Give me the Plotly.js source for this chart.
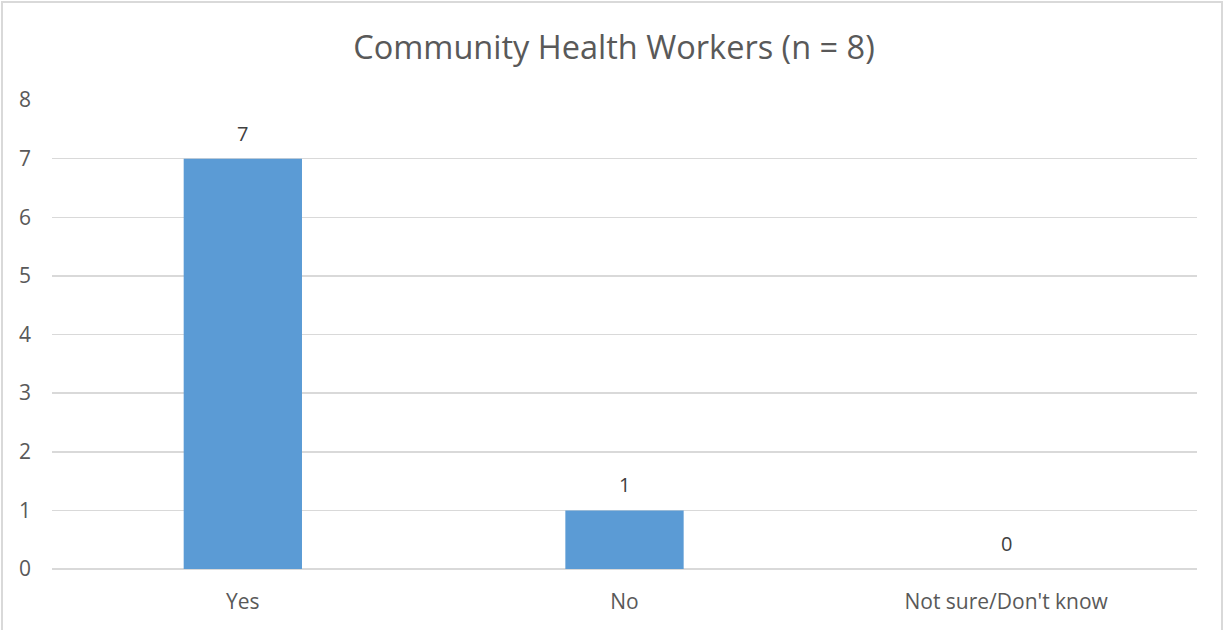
<!DOCTYPE html>
<html><head><meta charset="utf-8">
<script src="https://cdn.plot.ly/plotly-3.0.1.min.js"></script>
<style>
html,body{margin:0;padding:0;background:#fff;}
#wrap{position:relative;width:1228px;height:630px;}
#chart{width:1228px;height:630px;}
#frame{position:absolute;left:1px;top:1px;width:1222px;height:640px;border:2px solid #d9d9d9;box-sizing:border-box;pointer-events:none;}
</style></head>
<body>
<div id="wrap"><div id="chart"></div><div id="frame"></div></div>
<script>
const categories = ["Yes", "No", "Not sure/Don't know"];
const values = [7, 1, 0];
const yTicks = [0, 1, 2, 3, 4, 5, 6, 7, 8];
const chartTitle = "Community Health Workers (n = 8)";

const font = "Open Sans, Liberation Sans, sans-serif";
const labelAnnotations = categories.map((c, i) => ({
  x: c, y: values[i], xref: "x", yref: "y",
  text: String(values[i]), showarrow: false,
  yanchor: "bottom", yshift: 10,
  font: {family: font, size: 20, color: "#404040"}
}));

Plotly.newPlot("chart", [{
  type: "bar",
  x: categories,
  y: values,
  marker: {color: "#5B9BD5"},
  hoverinfo: "none"
}], {
  width: 1228, height: 630,
  margin: {l: 52, r: 31, t: 100, b: 61},
  paper_bgcolor: "#fff", plot_bgcolor: "#fff",
  bargap: 0.69,
  showlegend: false,
  annotations: labelAnnotations,
  title: {text: chartTitle, font: {family: font, size: 32.5, color: "#595959"}, x: 0.5, xanchor: "center", y: 1 - 48/630, yanchor: "middle", yref: "container"},
  xaxis: {type: "category", showgrid: false, zeroline: false, showline: false, ticks: "", ticklabelstandoff: 18,
          tickfont: {family: font, size: 21, color: "#595959"}},
  yaxis: {range: [0, 8], tickvals: yTicks, showgrid: true, gridcolor: "#d9d9d9", gridwidth: 1.5,
          zeroline: true, zerolinecolor: "#d9d9d9", zerolinewidth: 1.5, showline: false, ticks: "",
          ticklabelstandoff: 20, tickfont: {family: font, size: 21, color: "#595959"}}
}, {staticPlot: true});
</script>
</body></html>
